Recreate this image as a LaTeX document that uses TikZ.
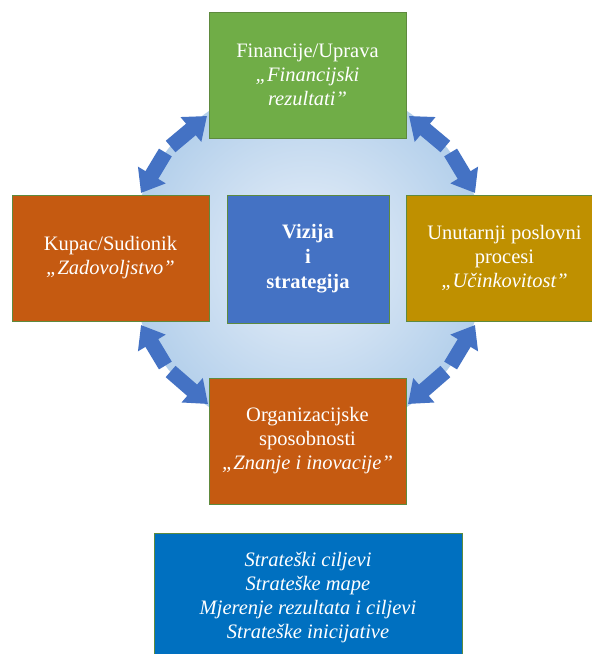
\documentclass[tikz,border=0pt]{standalone}
\usepackage{fontspec}
\setmainfont{Liberation Serif}
\usetikzlibrary{arrows.meta}
\definecolor{cgreen}{HTML}{70AD47}
\definecolor{corange}{HTML}{C55A11}
\definecolor{cblue}{HTML}{4472C4}
\definecolor{cgold}{HTML}{BF9000}
\definecolor{cnavy}{HTML}{0070C0}
\definecolor{cborder}{HTML}{5E8A3E}
\definecolor{carrow}{HTML}{4472C4}
\definecolor{cin}{HTML}{DDE9F6}
\definecolor{cout}{HTML}{8AB6E0}
\pgfdeclareradialshading{ringshade}{\pgfpoint{0bp}{0bp}}{color(0bp)=(cin); color(6bp)=(cin); color(44bp)=(cout); color(72bp)=(cout)}
\begin{document}
\begin{tikzpicture}[x=1pt,y=-1pt,
  box/.style={draw=cborder, line width=0.8pt, minimum width=197pt, minimum height=126pt,
    inner sep=0pt, text=white, align=center, font=\fontsize{20.5}{24}\selectfont},
  link/.style={line width=15pt, draw=carrow, -{Triangle[length=21pt,width=31pt]}}]
\clip (0,0) rectangle (592,654);
\fill[white] (0,0) rectangle (592,654);
\shade[shading=ringshade] (308,259) circle[radius=178];
% arrow end points
\coordinate (tlA) at (207,116);
\coordinate (tlB) at (141,193);
\coordinate (tlM1) at (170.6,146.5);
\coordinate (tlM2) at (165.4,152.5);
\coordinate (trA) at (409,116);
\coordinate (trB) at (475,193);
\coordinate (trM1) at (445.4,146.5);
\coordinate (trM2) at (450.6,152.5);
\coordinate (blA) at (141,325);
\coordinate (blB) at (208,404);
\coordinate (blM1) at (165.4,365.5);
\coordinate (blM2) at (170.6,371.5);
\coordinate (brA) at (475,325);
\coordinate (brB) at (408,404);
\coordinate (brM1) at (450.6,365.5);
\coordinate (brM2) at (445.4,371.5);
\draw[link] (tlM1) -- (tlA);
\draw[link] (tlM2) -- (tlB);
\draw[link] (trM1) -- (trA);
\draw[link] (trM2) -- (trB);
\draw[link] (blM1) -- (blA);
\draw[link] (blM2) -- (blB);
\draw[link] (brM1) -- (brA);
\draw[link] (brM2) -- (brB);
% boxes
\node[box, fill=cgreen] (fin) at (307.5,75) {Financije/Uprava\\\itshape „Financijski\\\itshape rezultati”};
\node[box, fill=corange] (kup) at (110.5,258) {Kupac/Sudionik\\\itshape „Zadovoljstvo”};
\node[box, fill=cblue, minimum width=162pt, minimum height=128pt, font=\fontsize{20.5}{25}\selectfont\bfseries] (viz) at (308,259) {Vizija\\i\\strategija};
\node[box, fill=cgold] (unu) at (504.5,258) {Unutarnji poslovni\\procesi\\\itshape „Učinkovitost”};
\node[box, fill=corange] (org) at (307.5,441) {Organizacijske\\sposobnosti\\\itshape „Znanje i inovacije”};
\node[box, fill=cnavy, minimum width=308pt, minimum height=140pt, anchor=north] (str) at (308,533) {};
\node[text=white, align=center, font=\fontsize{20.5}{24}\selectfont\itshape] (strt) at (308,598) {Strateški ciljevi\\Strateške mape\\Mjerenje rezultata i ciljevi\\Strateške inicijative};
\end{tikzpicture}
\end{document}
